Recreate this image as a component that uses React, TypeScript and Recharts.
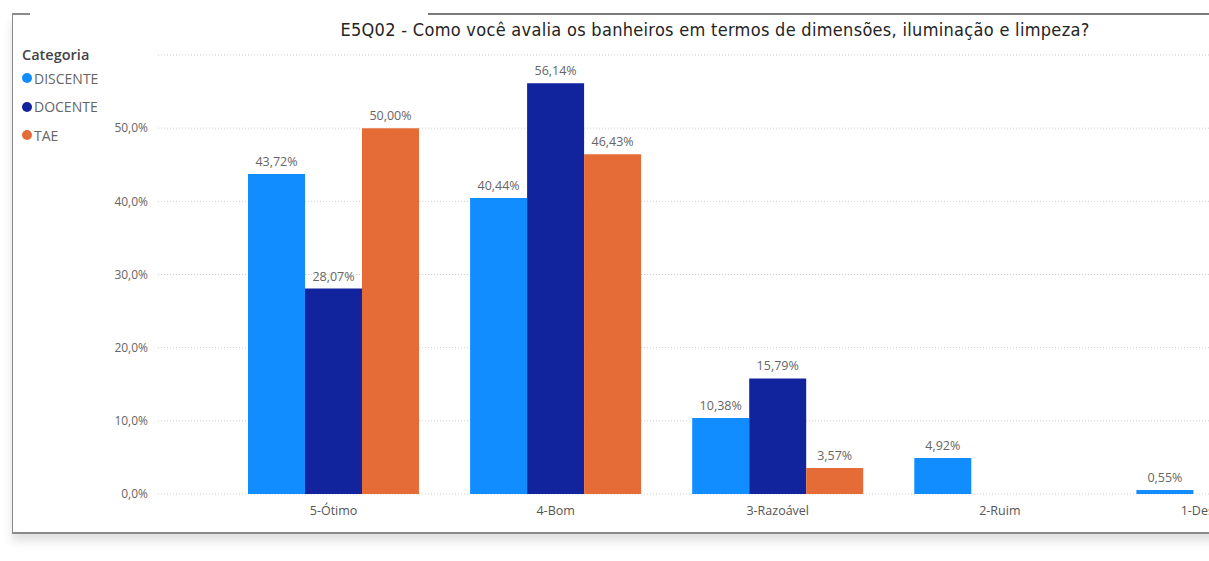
import React from 'react';
import { BarChart, Bar, XAxis, YAxis, CartesianGrid, LabelList } from 'recharts';

const categories = ['5-Ótimo', '4-Bom', '3-Razoável', '2-Ruim', '1-Desconheço'];
const discente = [43.72, 40.44, 10.38, 4.92, 0.55];
const docente: (number | null)[] = [28.07, 56.14, 15.79, null, null];
const tae: (number | null)[] = [50.0, 46.43, 3.57, null, null];
const yTicks = [0, 10, 20, 30, 40, 50];

const series = [
  { key: 'DISCENTE', color: '#118DFF' },
  { key: 'DOCENTE', color: '#12239E' },
  { key: 'TAE', color: '#E66C37' },
];

const data = categories.map((name, i) => ({
  name,
  DISCENTE: discente[i],
  DOCENTE: docente[i],
  TAE: tae[i],
}));

const font = "'Segoe UI', 'Open Sans', sans-serif";

const fmtPct = (v: any) =>
  v == null ? '' : Number(v).toFixed(2).replace('.', ',') + '%';

const LegendBox = () => (
  <div style={{ position: 'absolute', left: 22, top: 45, fontFamily: font }}>
    <div style={{ fontSize: 14.5, fontWeight: 600, color: '#444', height: 19, lineHeight: '20px' }}>Categoria</div>
    {series.map((s) => (
      <div key={s.key} style={{ display: 'flex', alignItems: 'center', height: 28.5, fontSize: 14, color: '#666' }}>
        <span style={{ width: 10, height: 10, borderRadius: '50%', background: s.color, marginRight: 2, display: 'inline-block' }} />
        {s.key}
      </div>
    ))}
  </div>
);

const App: React.FC = () => {
  return (
    <div style={{ position: 'fixed', left: 0, top: 0, width: 1209, height: 561, overflow: 'hidden', background: '#fff' }}>
      {/* card frame */}
      <div
        style={{
          position: 'absolute', left: 12, top: 14, width: 1300, height: 518,
          borderLeft: '1px solid #8a8a8a', borderBottom: '2px solid #8a8a8a',
          boxShadow: '0 7px 9px rgba(0,0,0,0.12)', background: '#fff',
        }}
      />
      <div style={{ position: 'absolute', left: 12, top: 13, width: 18, height: 2, background: '#8a8a8a' }} />
      <div style={{ position: 'absolute', left: 428, top: 13, width: 800, height: 2, background: '#7a7a7a' }} />
      <div
        style={{
          position: 'absolute', left: 0, top: 19, width: 1430, textAlign: 'center',
          fontFamily: "'DejaVu Sans Condensed', sans-serif", fontSize: 18, letterSpacing: 0.3, color: '#252423',
        }}
      >
        E5Q02 - Como você avalia os banheiros em termos de dimensões, iluminação e limpeza?
      </div>
      <LegendBox />
      <div style={{ position: 'absolute', left: 0, top: 0 }}>
        <BarChart
          width={1333}
          height={530}
          data={data}
          margin={{ top: 55, right: 0, bottom: 6, left: 0 }}
          barCategoryGap={25.5}
          barGap={0}
        >
          <CartesianGrid vertical={false} stroke="#cfcfcf" strokeDasharray="1 2" />
          <XAxis
            dataKey="name"
            interval={0}
            padding={{ left: 64.5, right: 0 }}
            axisLine={false}
            tickLine={false}
            height={30}
            tick={{ fontSize: 12.5, fill: '#555', fontFamily: font }}
            tickMargin={6}
          />
          <YAxis
            width={158}
            domain={[0, 60]}
            ticks={yTicks}
            axisLine={false}
            tickLine={false}
            tickSize={0}
            tickMargin={10}
            tickFormatter={(v: number) => v.toFixed(1).replace('.', ',') + '%'}
            tick={{ fontSize: 12, fill: '#666', fontFamily: font }}
          />
          {series.map((s) => (
            <Bar key={s.key} dataKey={s.key} fill={s.color} isAnimationActive={false}>
              <LabelList
                dataKey={s.key}
                position="top"
                offset={8}
                formatter={fmtPct}
                style={{ fontSize: 12.5, fill: '#666', fontFamily: font }}
              />
            </Bar>
          ))}
        </BarChart>
      </div>
    </div>
  );
};

export default App;
